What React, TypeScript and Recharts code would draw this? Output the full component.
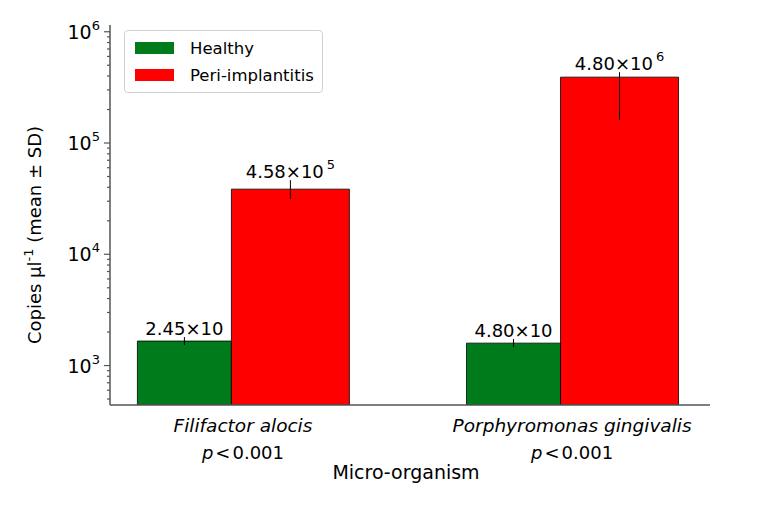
import React from "react";
import {
  BarChart,
  Bar,
  XAxis,
  YAxis,
  ErrorBar,
  LabelList,
  Legend,
  Label,
} from "recharts";

// Micro-organisms on the x axis
const categories = ["Filifactor alocis", "Porphyromonas gingivalis"];
const pValues = ["0.001", "0.001"];

// Copies per µl, mean values
const healthy = [1660, 1590];
const peri = [38500, 391000];

// [below, above] spread of each mean
const healthyErr = [
  [132, 143],
  [124, 140],
];
const periErr = [
  [7200, 7900],
  [230000, 42000],
];

// Annotations printed above the bars
const healthyText = ["2.45×10", "4.80×10"];
const periText = ["4.58×10", "4.80×10"];
const periTextExp = ["5", "6"];

const yMajor = [1e3, 1e4, 1e5, 1e6];
const Y_MIN = 442;
const Y_MAX = 1150000;

const FONT = "DejaVu Sans";
const GREEN = "#007b1c";
const RED = "#ff0000";
const AXIS = "#555";

const data = categories.map((name, i) => ({
  pos: i,
  name,
  healthy: healthy[i],
  peri: peri[i],
  healthyErr: healthyErr[i],
  periErr: periErr[i],
}));

// log axis: majors plus 2..9 minors in each decade
const yTicks: number[] = [];
for (let d = 2; d <= 6; d++) {
  for (let k = 1; k <= 9; k++) {
    const v = k * Math.pow(10, d);
    if (v >= Y_MIN && v <= Y_MAX) yTicks.push(v);
  }
}

const YTick = (props: any) => {
  const { x, y, payload } = props;
  const v = payload.value;
  const major = yMajor.includes(v);
  return (
    <g>
      <line x1={x - (major ? 6 : 3)} x2={x} y1={y} y2={y} stroke={AXIS} strokeWidth={1.2} />
      {major && (
        <text x={x - 10} y={y + 7} textAnchor="end" fontFamily={FONT} fontSize={19} fill="#000">
          10
          <tspan dy={-9} fontSize={13}>
            {Math.round(Math.log10(v))}
          </tspan>
        </text>
      )}
    </g>
  );
};

const XTick = (props: any) => {
  const { x, y, payload } = props;
  const i = payload.value;
  return (
    <g fontFamily={FONT} fill="#000">
      <text x={x} y={y + 27} textAnchor="middle" fontSize={18.5} fontStyle="italic">
        {categories[i]}
      </text>
      <text x={x} y={y + 54} textAnchor="middle" fontSize={18}>
        <tspan fontStyle="italic">p</tspan>
        <tspan dx={2}>&lt;</tspan>
        <tspan dx={2}>{pValues[i]}</tspan>
      </text>
    </g>
  );
};

const YLabel = (props: any) => {
  const { viewBox } = props;
  const x = viewBox.x + 41;
  const y = viewBox.y + viewBox.height / 2 + 20;
  return (
    <text
      x={x}
      y={y}
      textAnchor="middle"
      transform={`rotate(-90, ${x}, ${y})`}
      fontFamily={FONT}
      fontSize={18}
      fill="#000"
    >
      Copies µl
      <tspan dy={-8} fontSize={13}>
        -1
      </tspan>
      <tspan dy={8}> (mean ± SD)</tspan>
    </text>
  );
};

const XLabel = (props: any) => {
  const { viewBox } = props;
  return (
    <text
      x={viewBox.x + viewBox.width / 2 - 4}
      y={viewBox.y + 74}
      textAnchor="middle"
      fontFamily={FONT}
      fontSize={19}
      fill="#000"
    >
      Micro-organism
    </text>
  );
};

// value text sits just above the upper whisker
const makeBarLabel = (texts: string[], exps: string[] | null, errs: number[][]) => (props: any) => {
  const { x, y, width, height, value, index } = props;
  const ppd = height / (Math.log10(value) - Math.log10(Y_MIN));
  const top = y - ppd * Math.log10((value + errs[index][1]) / value);
  return (
    <text
      x={x + width / 2}
      y={top - 2}
      textAnchor="middle"
      fontFamily={FONT}
      fontSize={18}
      fill="#000"
    >
      {texts[index]}
      {exps && (
        <tspan dx={3} dy={-9} fontSize={13}>
          {exps[index]}
        </tspan>
      )}
    </text>
  );
};

const LegendBox = () => (
  <div
    style={{
      fontFamily: FONT,
      fontSize: 16.5,
      border: "1px solid #d0d0d0",
      borderRadius: 4,
      background: "#fff",
      padding: "7px 8px 7px 10px",
      whiteSpace: "nowrap",
    }}
  >
    {[
      { name: "Healthy", color: GREEN },
      { name: "Peri-implantitis", color: RED },
    ].map((item, i) => (
      <div key={item.name} style={{ display: "flex", alignItems: "center", marginTop: i ? 7 : 0, height: 20 }}>
        <span style={{ width: 39, height: 12, background: item.color, display: "inline-block", marginRight: 16 }} />
        <span>{item.name}</span>
      </div>
    ))}
  </div>
);

export default function App() {
  return (
    <div style={{ position: "absolute", left: 0, top: 0, background: "#fff" }}>
      <BarChart
        width={768}
        height={512}
        data={data}
        margin={{ top: 25, right: 58, bottom: 17, left: 0 }}
        barGap={0}
      >
        <XAxis
          type="number"
          dataKey="pos"
          domain={[-0.404, 1.419]}
          allowDataOverflow
          ticks={[0, 1]}
          interval={0}
          tick={<XTick />}
          tickLine={false}
          tickSize={0}
          tickMargin={0}
          height={90}
          axisLine={{ stroke: AXIS, strokeWidth: 1.5 }}
        >
          <Label content={<XLabel />} />
        </XAxis>
        <YAxis
          scale="log"
          type="number"
          domain={[Y_MIN, Y_MAX]}
          allowDataOverflow
          ticks={yTicks}
          interval={0}
          tick={<YTick />}
          tickLine={false}
          tickSize={0}
          tickMargin={0}
          width={110}
          axisLine={{ stroke: AXIS, strokeWidth: 1.5 }}
        >
          <Label content={<YLabel />} />
        </YAxis>
        <Legend
          layout="horizontal"
          verticalAlign="middle"
          align="center"
          content={<LegendBox />}
          wrapperStyle={{ left: 124, top: 30, width: "auto" }}
        />
        <Bar dataKey="healthy" name="Healthy" fill={GREEN} stroke="#000" strokeWidth={0.8} barSize={94} isAnimationActive={false}>
          <ErrorBar dataKey="healthyErr" direction="y" width={0} stroke="#000" strokeWidth={1} isAnimationActive={false} />
          <LabelList dataKey="healthy" content={makeBarLabel(healthyText, null, healthyErr)} />
        </Bar>
        <Bar dataKey="peri" name="Peri-implantitis" fill={RED} stroke="#000" strokeWidth={0.8} barSize={118} isAnimationActive={false}>
          <ErrorBar dataKey="periErr" direction="y" width={0} stroke="#000" strokeWidth={1} isAnimationActive={false} />
          <LabelList dataKey="peri" content={makeBarLabel(periText, periTextExp, periErr)} />
        </Bar>
      </BarChart>
    </div>
  );
}
